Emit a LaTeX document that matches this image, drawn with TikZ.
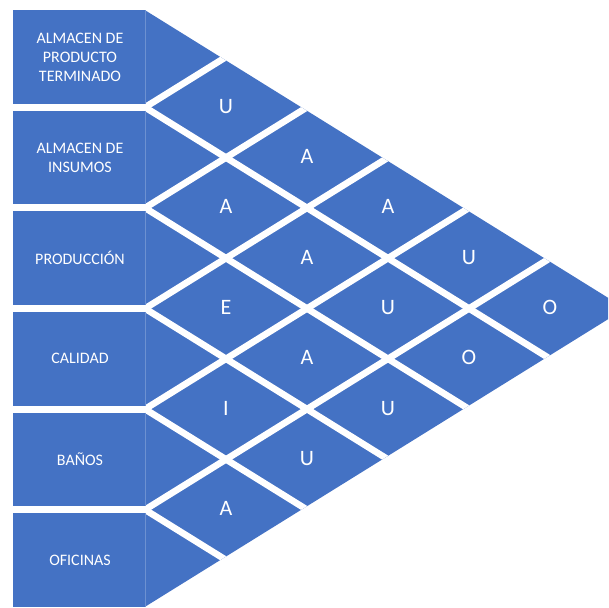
\documentclass[tikz,border=0pt]{standalone}
\usepackage{fontspec}
\setmainfont{Carlito}
\definecolor{cblue}{RGB}{68,114,196}
\tikzset{
  cellfill/.style={fill=cblue},
  gapline/.style={draw=white,line width=3.3pt},
  sepline/.style={draw=cblue!78!white,line width=0.5pt},
  rowlabel/.style={text=white,font=\fontsize{8}{9.5}\selectfont,align=center,inner sep=0pt},
  rel/.style={text=white,font=\fontsize{11}{13}\selectfont,inner sep=0pt}
}
\begin{document}
\begin{tikzpicture}[x=0.5pt,y=-0.5pt]
\useasboundingbox (0,0) rectangle (608,608);
\begin{scope}
\clip (0,0) rectangle (608,608);
% left boxes
\foreach \i in {1,...,6}{
  \path[cellfill] (13,{57+100.6*(\i-1)-46.8}) rectangle (145,{57+100.6*(\i-1)+46.8});
}
% triangular matrix
\path[cellfill] (145,10.2) -- (625.3,308.5) -- (145,606.8) -- cycle;
\begin{scope}
\clip (145,10.2) -- (625.3,308.5) -- (145,606.8) -- cycle;
\foreach \k in {1,...,5}{
  \draw[gapline] (145,{57+100.6*(\k-1)+50.3}) -- ++(486,301.8);
  \draw[gapline] (145,{57+100.6*(\k-1)+50.3}) -- ++(486,-301.8);
}
\end{scope}
\foreach \i in {1,...,6}{
  \draw[sepline] (145,{57+100.6*(\i-1)-46.8}) -- (145,{57+100.6*(\i-1)+46.8});
}
\end{scope}
% row labels
\node[rowlabel] (r1) at (80,57) {ALMACEN DE\\PRODUCTO\\TERMINADO};
\node[rowlabel] (r2) at (80,157.6) {ALMACEN DE\\INSUMOS};
\node[rowlabel] (r3) at (80,258.2) {PRODUCCIÓN};
\node[rowlabel] (r4) at (80,358.8) {CALIDAD};
\node[rowlabel] (r5) at (80,459.4) {BAÑOS};
\node[rowlabel] (r6) at (80,560) {OFICINAS};
% relationship letters
\foreach \i/\j/\t in {1/2/U,2/3/A,3/4/E,4/5/I,5/6/A,1/3/A,2/4/A,3/5/A,4/6/U,1/4/A,2/5/U,3/6/U,1/5/U,2/6/O,1/6/O}{
  \node[rel] (d\i\j) at ({145+81*(\j-\i)},{56+50.3*(\i+\j-2)}) {\t};
}
\end{tikzpicture}
\end{document}
